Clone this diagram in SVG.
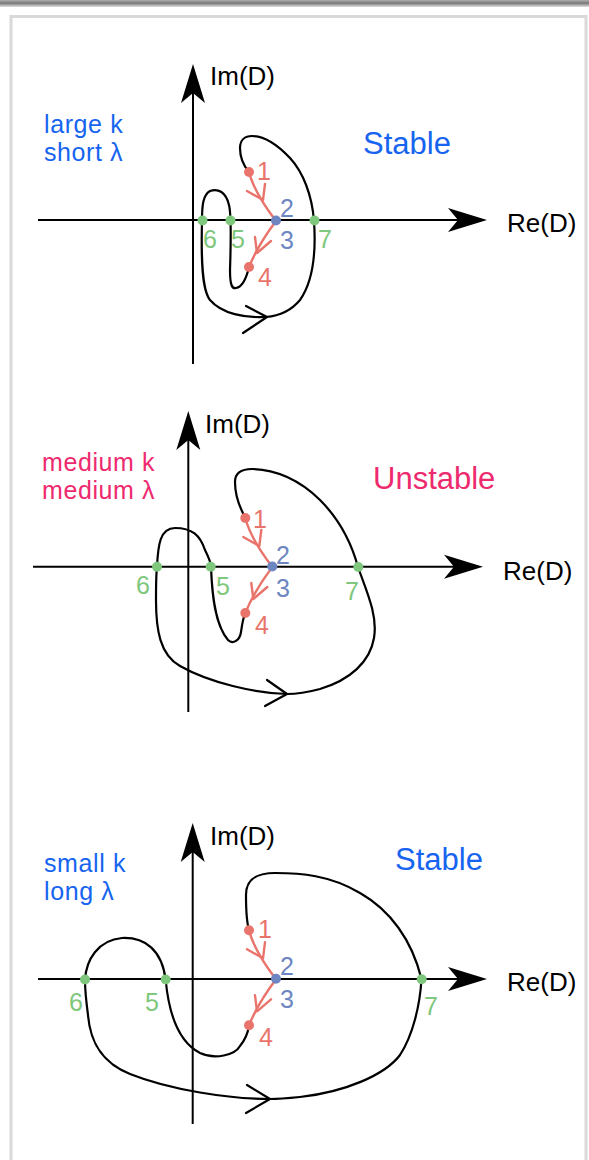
<svg xmlns="http://www.w3.org/2000/svg" width="589" height="1160" viewBox="0 0 589 1160">
<defs>
<linearGradient id="topbar" x1="0" y1="0" x2="0" y2="1">
<stop offset="0" stop-color="#b0b0b0"/>
<stop offset="0.45" stop-color="#777777"/>
<stop offset="1" stop-color="#e0e0e0"/>
</linearGradient>
<style>
text{font-family:"Liberation Sans",Arial,sans-serif;}
.axis{stroke:#000;stroke-width:2;fill:none;}
.head{fill:#000;stroke:none;}
.curve{stroke:#000;stroke-width:2.2;fill:none;stroke-linejoin:round;stroke-linecap:round;}
.red{stroke:#e9746c;stroke-width:2.4;fill:none;stroke-linecap:round;stroke-linejoin:round;}
.lab{font-size:26px;fill:#000;}
.num{font-size:25px;}
.cr{fill:#e9746c;}
.cb{fill:#6d86c2;}
.cg{fill:#7ec77c;}
.side{font-size:25px;letter-spacing:0.6px;}
.title{font-size:31px;}
.blue{fill:#1664f0;}
.pink{fill:#ee2a6e;}
</style>
</defs>
<rect x="0" y="0" width="589" height="1160" fill="#fff"/>
<rect x="0" y="0" width="589" height="7" fill="url(#topbar)"/>
<rect x="11" y="16.5" width="575" height="1200" fill="none" stroke="#d9d9d9" stroke-width="3"/>

<!-- Panel 1 -->
<g id="panel1">
<g id="axes1">
<line class="axis" x1="38" y1="220" x2="470" y2="220"/>
<path class="head" d="M487,220 L448,208 L458,220 L448,232 Z"/>
<line class="axis" x1="193" y1="364" x2="193" y2="85"/>
<path class="head" d="M193,64 L181,103 L193,93 L205,103 Z"/>
<text class="lab" x="210" y="85">Im(D)</text>
<text class="lab" x="507" y="232">Re(D)</text>
</g>
<text class="side blue" x="44" y="133">large k</text>
<text class="side blue" x="44" y="161">short λ</text>
<text class="title blue" x="363" y="154">Stable</text>
<g id="connectors1">
<path class="curve" d="M249,172 C243,165 240,156 240,148 C240,140 245,136 252,136 C262,136 275,142 290,158 C303,172 312,195 314,221 C316,250 314,280 300,300 C290,312 278,316 266,317 C245,318 222,314 210,300 C202,290 201,260 202,221 C202,205 203,195 210,191 C218,188 226,192 229,205 C231,213 231,240 230,270 C230,285 232,289 236,288 C242,287 246,280 249,267"/>
<path class="curve" d="M246,306 L267,317 L243,333"/>
</g>
<g id="flow1">
<path class="red" d="M249,172 Q254,192 276,221"/>
<path class="red" d="M247,191 L263,200 L265,184"/>
<path class="red" d="M276,221 Q258,245 249,267"/>
<path class="red" d="M255,237 L257,253 L271,241"/>
<circle class="cr" cx="249" cy="172" r="5"/>
<circle class="cr" cx="249" cy="267" r="5"/>
<circle class="cb" cx="276" cy="220.5" r="5"/>
</g>
<circle class="cg" cx="202.5" cy="220.5" r="5"/>
<circle class="cg" cx="230.5" cy="220.5" r="5"/>
<circle class="cg" cx="314.5" cy="220.5" r="5"/>
<text class="num cr" x="257" y="180">1</text>
<text class="num cb" x="280" y="217">2</text>
<text class="num cb" x="280" y="249">3</text>
<text class="num cr" x="258" y="286">4</text>
<text class="num cg" x="203" y="248">6</text>
<text class="num cg" x="231" y="248">5</text>
<text class="num cg" x="318" y="248">7</text>
</g>

<!-- Panel 2 -->
<g id="panel2">
<g id="axes2">
<line class="axis" x1="33" y1="566.7" x2="466" y2="566.7"/>
<path class="head" d="M483,566.7 L444,554.7 L454,566.7 L444,578.7 Z"/>
<line class="axis" x1="188.3" y1="712" x2="188.3" y2="432"/>
<path class="head" d="M188.3,411 L176.3,450 L188.3,440 L200.3,450 Z"/>
<text class="lab" x="205" y="433">Im(D)</text>
<text class="lab" x="503" y="580">Re(D)</text>
</g>
<text class="side pink" x="42" y="471">medium k</text>
<text class="side pink" x="42" y="499">medium λ</text>
<text class="title pink" x="373" y="489">Unstable</text>
<g id="connectors2">
<path class="curve" d="M245,517 C240,508 235,495 235,482 C235,472 242,469 252,469 C275,469 300,480 320,500 C340,520 352,545 358,567 C366,590 378,615 374,638 C370,662 350,680 320,689 C305,693 295,694 287,694 C255,693 210,683 180,666 C160,655 156,630 156,600 C156,585 156,575 157,567 C158,545 160,528 175,528 C192,528 200,535 205,550 C209,558 211,565 211,567 C212,595 215,625 228,640 C233,645 240,640 241,632 C242,625 243,618 245,614"/>
<path class="curve" d="M267,680 L287,694 L265,706"/>
</g>
<g id="flow2" transform="translate(-3.7,346)">
<path class="red" d="M249,172 Q254,192 276,221"/>
<path class="red" d="M247,191 L263,200 L265,184"/>
<path class="red" d="M276,221 Q258,245 249,267"/>
<path class="red" d="M255,237 L257,253 L271,241"/>
<circle class="cr" cx="249" cy="172" r="5"/>
<circle class="cr" cx="249" cy="267" r="5"/>
<circle class="cb" cx="276" cy="220.5" r="5"/>
</g>
<circle class="cg" cx="157" cy="566.7" r="5"/>
<circle class="cg" cx="210.7" cy="566.7" r="5"/>
<circle class="cg" cx="358.3" cy="567" r="5"/>
<text class="num cr" x="253" y="528">1</text>
<text class="num cb" x="276" y="564">2</text>
<text class="num cb" x="276" y="597">3</text>
<text class="num cr" x="255" y="634">4</text>
<text class="num cg" x="136" y="594">6</text>
<text class="num cg" x="216" y="595">5</text>
<text class="num cg" x="345" y="600">7</text>
</g>

<!-- Panel 3 -->
<g id="panel3">
<g id="axes3">
<line class="axis" x1="38" y1="979" x2="470" y2="979"/>
<path class="head" d="M487,979 L448,967 L458,979 L448,991 Z"/>
<line class="axis" x1="192.7" y1="1124" x2="192.7" y2="844"/>
<path class="head" d="M192.7,823 L180.7,862 L192.7,852 L204.7,862 Z"/>
<text class="lab" x="210" y="845">Im(D)</text>
<text class="lab" x="507" y="991">Re(D)</text>
</g>
<text class="side blue" x="44" y="872">small k</text>
<text class="side blue" x="44" y="900">long λ</text>
<text class="title blue" x="395" y="870">Stable</text>
<g id="connectors3">
<path class="curve" d="M249,930 C246,920 246,905 246,895 C246,880 255,873 275,873 C300,873 330,875 360,893 C390,910 412,940 421.5,979 C420,1005 413,1035 400,1055 C385,1075 345,1092 300,1097 C290,1098 280,1099 270,1099 C230,1099 170,1090 130,1074 C100,1062 90,1040 88,1015 C86,1000 85,990 85,980 C86,960 98,940 122,938 C145,937 162,950 165.7,980 C168,1005 175,1040 200,1053 C215,1060 235,1055 240,1046 C245,1040 248,1032 249,1026"/>
<path class="curve" d="M247,1085 L270,1099 L246,1113"/>
</g>
<g id="flow3" transform="translate(0,758.3)">
<path class="red" d="M249,172 Q254,192 276,221"/>
<path class="red" d="M247,191 L263,200 L265,184"/>
<path class="red" d="M276,221 Q258,245 249,267"/>
<path class="red" d="M255,237 L257,253 L271,241"/>
<circle class="cr" cx="249" cy="172" r="5"/>
<circle class="cr" cx="249" cy="267" r="5"/>
<circle class="cb" cx="276" cy="220.5" r="5"/>
</g>
<circle class="cg" cx="85" cy="979.5" r="5"/>
<circle class="cg" cx="165.7" cy="979.5" r="5"/>
<circle class="cg" cx="421.7" cy="979.3" r="5"/>
<text class="num cg" x="69" y="1011">6</text>
<text class="num cg" x="145" y="1011">5</text>
<text class="num cg" x="424" y="1015">7</text>
<text class="num cr" x="258" y="938">1</text>
<text class="num cb" x="280" y="975">2</text>
<text class="num cb" x="280" y="1008">3</text>
<text class="num cr" x="259" y="1046">4</text>
</g>
</svg>
